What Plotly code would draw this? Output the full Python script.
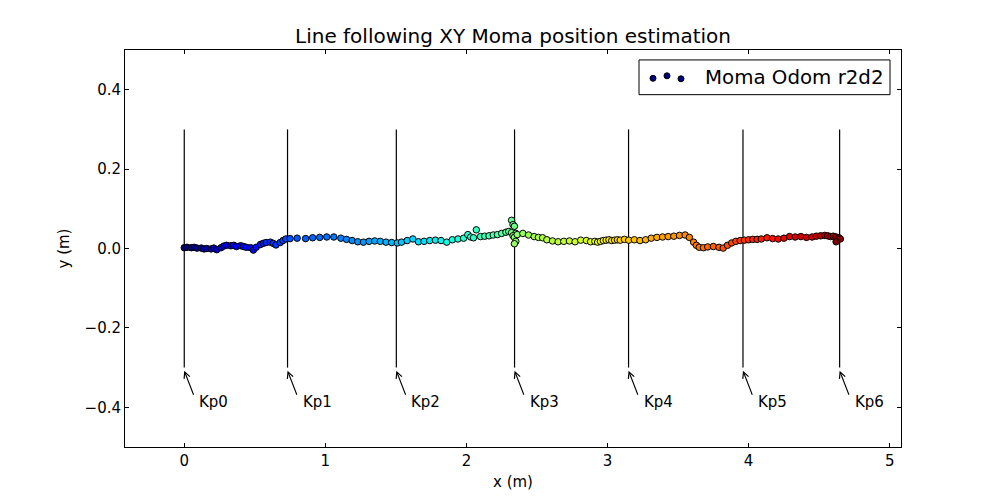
import plotly.graph_objects as go

# ---------------- data ----------------
x_m = [
    # 0 .. 0.72
    0.00, 0.02, 0.05, 0.07, 0.09, 0.12, 0.14, 0.16, 0.19, 0.21, 0.23, 0.26, 0.28, 0.30, 0.33, 0.35,
    0.37, 0.40, 0.42, 0.44, 0.47, 0.49, 0.51, 0.54, 0.56, 0.58, 0.61, 0.63, 0.65, 0.68, 0.70, 0.72,
    # 0.75 .. 1.54
    0.75, 0.80, 0.86, 0.91, 0.96, 1.01, 1.06, 1.11, 1.15, 1.19, 1.23, 1.27, 1.31, 1.35, 1.39, 1.43,
    1.47, 1.51, 1.54,
    # 1.58 .. 2.28
    1.58, 1.62, 1.66, 1.70, 1.74, 1.78, 1.82, 1.86, 1.90, 1.94, 1.98, 2.01, 2.03, 2.05, 2.07, 2.10,
    2.13, 2.16, 2.19, 2.22, 2.25, 2.28,
    # cluster near Kp3
    2.30, 2.32, 2.33, 2.34, 2.32, 2.35, 2.33, 2.34, 2.36, 2.35, 2.34,
    # 2.40 .. 3.15
    2.40, 2.44, 2.48, 2.51, 2.54, 2.57, 2.61, 2.65, 2.69, 2.73, 2.77, 2.81, 2.85, 2.88, 2.91, 2.93,
    2.95, 2.97, 2.99, 3.01, 3.03, 3.05, 3.07, 3.09, 3.12, 3.15,
    # 3.19 .. 3.63
    3.19, 3.23, 3.27, 3.31, 3.35, 3.39, 3.43, 3.47, 3.51, 3.55, 3.58, 3.61, 3.63,
    # 3.65 .. 3.94
    3.65, 3.68, 3.71, 3.75, 3.79, 3.82, 3.85, 3.88, 3.91, 3.94,
    # 3.97 .. end
    3.97, 4.00, 4.03, 4.06, 4.09, 4.13, 4.17, 4.21, 4.25, 4.29, 4.33, 4.37, 4.41, 4.45, 4.48, 4.51,
    4.54, 4.56, 4.58, 4.60, 4.62, 4.64, 4.65, 4.62,
]
y_m = [
    0.002, 0.003, 0.002, 0.003, 0.001, 0.001, -0.001, 0.000, -0.001, 0.001, -0.003, 0.002, 0.006, 0.008, 0.007, 0.008,
    0.005, 0.007, 0.005, 0.003, 0.002, -0.004, 0.003, 0.010, 0.013, 0.015, 0.016, 0.013, 0.009, 0.015, 0.020, 0.024,
    0.025, 0.026, 0.025, 0.027, 0.028, 0.029, 0.029, 0.026, 0.023, 0.020, 0.017, 0.016, 0.018, 0.019, 0.018, 0.016,
    0.015, 0.014, 0.016,
    0.020, 0.024, 0.017, 0.018, 0.020, 0.021, 0.020, 0.016, 0.022, 0.024, 0.026, 0.035, 0.029, 0.027, 0.047, 0.030,
    0.031, 0.032, 0.034, 0.035, 0.038, 0.041,
    0.043, 0.071, 0.060, 0.056, 0.040, 0.038, 0.032, 0.028, 0.035, 0.018, 0.012,
    0.038, 0.034, 0.030, 0.028, 0.027, 0.022, 0.019, 0.017, 0.018, 0.019, 0.017, 0.021, 0.020, 0.017, 0.018, 0.016,
    0.018, 0.020, 0.021, 0.022, 0.020, 0.021, 0.022, 0.021, 0.023, 0.021,
    0.022, 0.020, 0.022, 0.026, 0.028, 0.029, 0.030, 0.031, 0.033, 0.034, 0.028, 0.016, 0.008,
    0.003, 0.002, 0.004, 0.005, 0.003, 0.001, 0.008, 0.014, 0.018, 0.020,
    0.021, 0.022, 0.023, 0.023, 0.024, 0.027, 0.025, 0.024, 0.026, 0.030, 0.029, 0.030, 0.028, 0.029, 0.031, 0.032,
    0.033, 0.032, 0.030, 0.031, 0.029, 0.027, 0.024, 0.017,
]
sample_index = list(range(len(x_m)))

kp_x = [0.0, 0.732, 1.503, 2.341, 3.149, 3.960, 4.645]
kp_labels = ["Kp0", "Kp1", "Kp2", "Kp3", "Kp4", "Kp5", "Kp6"]
kp_line_top = 0.3
kp_line_bottom = -0.3

x_ticks = [0, 1, 2, 3, 4, 5]
y_ticks = [-0.4, -0.2, 0.0, 0.2, 0.4]

title_text = "Line following XY Moma position estimation"
legend_name = "Moma Odom r2d2"

# matplotlib "jet" approximation
jet = [
    [0.0, "rgb(0,0,128)"], [0.11, "rgb(0,0,255)"], [0.125, "rgb(0,0,255)"],
    [0.34, "rgb(0,219,255)"], [0.35, "rgb(0,229,247)"], [0.375, "rgb(20,255,226)"],
    [0.64, "rgb(239,255,8)"], [0.65, "rgb(247,246,0)"], [0.66, "rgb(255,236,0)"],
    [0.89, "rgb(255,19,0)"], [0.91, "rgb(232,0,0)"], [1.0, "rgb(128,0,0)"],
]

FONT = "DejaVu Sans"
fig = go.Figure()

# Kp vertical lines
for kx in kp_x:
    fig.add_trace(go.Scatter(
        x=[kx, kx], y=[kp_line_top, kp_line_bottom], mode="lines",
        line=dict(color="black", width=1.2), showlegend=False, hoverinfo="skip"))

# trajectory
fig.add_trace(go.Scatter(
    x=x_m, y=y_m, mode="markers", name=legend_name, showlegend=False,
    marker=dict(size=6.5, color=sample_index, colorscale=jet,
                line=dict(color="black", width=1))))

# Kp arrows and labels
annotations = []
for kx, lab in zip(kp_x, kp_labels):
    annotations.append(dict(
        x=kx, y=kp_line_bottom - 0.008, xref="x", yref="y",
        ax=kx + 0.07, ay=-0.372, axref="x", ayref="y",
        text="", showarrow=True, arrowhead=5, arrowsize=1.1, arrowwidth=1.1,
        arrowcolor="black", standoff=0, startstandoff=0))
    annotations.append(dict(
        x=kx + 0.092, y=-0.386, xref="x", yref="y", text=lab, showarrow=False,
        xanchor="left", yanchor="middle", font=dict(family=FONT, size=15, color="black")))

# custom legend (matplotlib style: 3 scatter points)
L, R, T, B = 125, 901, 50, 450
def px2paper_x(p):
    return (p - L) / (R - L)
def px2paper_y(p):
    return (B - p) / (B - T)

shapes = [dict(type="rect", xref="paper", yref="paper",
               x0=px2paper_x(639), x1=px2paper_x(890), y0=px2paper_y(95), y1=px2paper_y(60),
               line=dict(color="black", width=1), fillcolor="white")]
for cx, cy in [(653, 78.5), (667, 76), (681, 79)]:
    shapes.append(dict(type="circle", xref="paper", yref="paper",
                       xsizemode="pixel", ysizemode="pixel",
                       xanchor=px2paper_x(cx), yanchor=px2paper_y(cy),
                       x0=-3, x1=3, y0=-3, y1=3,
                       line=dict(color="black", width=1), fillcolor="rgb(0,0,128)"))
annotations.append(dict(x=px2paper_x(703), y=px2paper_y(77.5), xref="paper", yref="paper",
                        text=legend_name, showarrow=False, xanchor="left", yanchor="middle",
                        font=dict(family=FONT, size=19.8, color="black")))

fig.update_layout(
    width=1000, height=500,
    margin=dict(l=L, r=1000 - R, t=T, b=500 - B),
    paper_bgcolor="white", plot_bgcolor="white",
    title=dict(text=title_text, x=(L + R) / 2 / 1000, xanchor="center",
               y=1 - 36 / 500, yanchor="middle",
               font=dict(family=FONT, size=20, color="black")),
    font=dict(family=FONT, size=15, color="black"),
    shapes=shapes, annotations=annotations, showlegend=False,
    xaxis=dict(range=[-0.42, 5.08], tickvals=x_ticks, ticktext=[str(v) for v in x_ticks],
               ticks="inside", ticklen=4, tickcolor="black", showline=True, linecolor="black",
               linewidth=1, mirror="ticks", showgrid=False, zeroline=False,
               title=dict(text="x (m)", standoff=7, font=dict(family=FONT, size=15))),
    yaxis=dict(range=[-0.5, 0.5], tickvals=y_ticks, tickformat=".1f",
               ticks="inside", ticklen=4, tickcolor="black", showline=True, linecolor="black",
               linewidth=1, mirror="ticks", showgrid=False, zeroline=False,
               title=dict(text="y (m)", standoff=11, font=dict(family=FONT, size=15))),
)

fig.write_html("out.html")
